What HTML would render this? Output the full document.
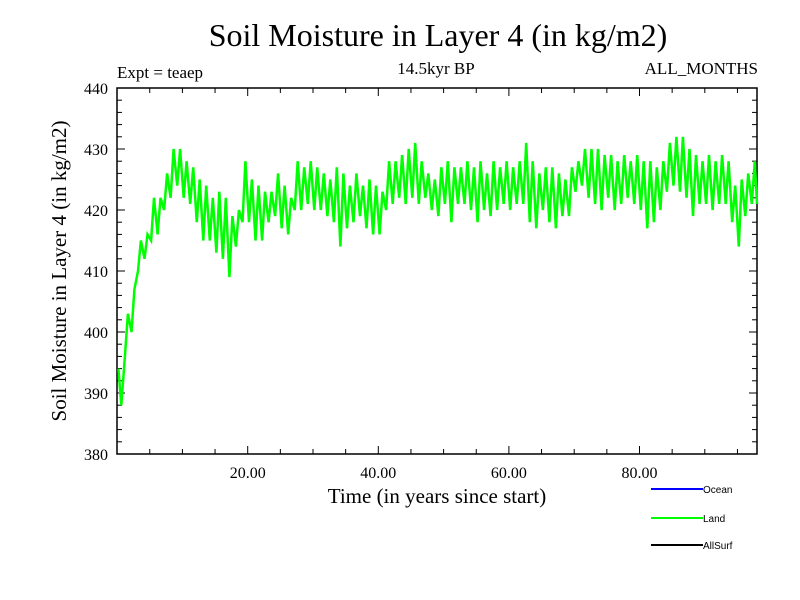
<!DOCTYPE html>
<html><head><meta charset="utf-8"><style>
body{margin:0;background:#fff;width:800px;height:600px;overflow:hidden}
svg{display:block;font-family:"Liberation Serif",serif}
.lg{font-family:"Liberation Sans",sans-serif;font-size:10px}
</style></head><body>
<svg id="chart" width="800" height="600">
<text x="438" y="46" text-anchor="middle" font-size="32">Soil Moisture in Layer 4 (in kg/m2)</text>
<text x="117" y="78" font-size="17">Expt = teaep</text>
<text x="436" y="74" text-anchor="middle" font-size="17">14.5kyr BP</text>
<text x="758" y="74" text-anchor="end" font-size="17">ALL_MONTHS</text>
<text x="437" y="503" text-anchor="middle" font-size="21">Time (in years since start)</text>
<text transform="translate(66,271) rotate(-90)" text-anchor="middle" font-size="21">Soil Moisture in Layer 4 (in kg/m2)</text>
<g id="axes"></g>
<g id="series"></g>
<g>
<line x1="651" y1="489" x2="703" y2="489" stroke="#0000ff" stroke-width="2"/>
<text class="lg" x="703" y="493">Ocean</text>
<line x1="651" y1="518" x2="703" y2="518" stroke="#00ff00" stroke-width="2"/>
<text class="lg" x="703" y="522">Land</text>
<line x1="651" y1="545" x2="703" y2="545" stroke="#000" stroke-width="2"/>
<text class="lg" x="703" y="549">AllSurf</text>
</g>
</svg>
<script>
const yearHigh=[388,403,407,415,416,422,422,426,430,430,428,427,425,424,422,423,422,419,420,428,425,424,423,423,426,424,422,428,427,428,427,426,425,427,426,424,426,424,425,424,423,428,428,429,430,431,428,426,425,427,428,427,427,428,427,428,426,428,427,428,427,428,431,428,426,427,427,426,425,427,428,430,430,430,429,429,428,429,428,429,428,428,427,428,431,432,432,430,429,428,429,428,429,428,424,425,426,428];
const yearLow=[394,396,400,410,412,415,416,420,422,424,422,421,418,415,415,413,412,409,414,418,418,415,415,418,419,417,416,420,420,421,420,420,419,418,414,417,418,419,417,416,416,420,421,422,421,422,421,422,420,419,421,418,421,421,420,418,420,419,420,421,420,421,421,418,417,420,418,417,419,419,423,424,422,421,420,422,420,421,422,421,420,417,418,420,423,424,423,422,419,421,421,420,421,421,418,414,419,421];
const yTicks=[380,390,400,410,420,430,440];
const xTicks=[20,40,60,80];
const X0=117.1,XS=6.53,Y0=454,YS=6.1;
const xs=t=>X0+t*XS, ys=v=>Y0-(v-380)*YS;
const NS="http://www.w3.org/2000/svg";
const ax=document.getElementById('axes');
function mk(tag,a,p){const e=document.createElementNS(NS,tag);for(const k in a)e.setAttribute(k,a[k]);(p||ax).appendChild(e);return e;}
const frame=mk('rect',{x:117,y:88,width:640,height:366,fill:'none',stroke:'#000','stroke-width':1.5});


for(let v=380;v<=440;v+=2){const y=ys(v),L=(v%10===0)?8:5;
 mk('line',{x1:117,y1:y,x2:117+L,y2:y,stroke:'#000','stroke-width':1});
 mk('line',{x1:757,y1:y,x2:757-L,y2:y,stroke:'#000','stroke-width':1});}
for(let t=5;t<98;t+=5){const x=xs(t),L=(t%20===0)?8:5;
 mk('line',{x1:x,y1:454,x2:x,y2:454-L,stroke:'#000','stroke-width':1});
 mk('line',{x1:x,y1:88,x2:x,y2:88+L,stroke:'#000','stroke-width':1});}
yTicks.forEach(v=>{const t=mk('text',{x:108,y:ys(v)+6,'text-anchor':'end','font-size':16});t.textContent=v;
 
 });
xTicks.forEach(v=>{const t=mk('text',{x:xs(v),y:478,'text-anchor':'middle','font-size':16});t.textContent=v.toFixed(2);
 
 });
let pts=[];
for(let i=0;i<yearHigh.length;i++){
 pts.push([i+0.2,yearLow[i]]);
 pts.push([i+0.65,yearHigh[i]]);
}
pts.push([98,421]);
let d='';
pts.forEach((p,i)=>{const x=xs(p[0]),y=ys(p[1]);
 d+=(i===0?'M':'L')+x.toFixed(1)+','+y.toFixed(1);});
const path=mk('path',{d:d,fill:'none',stroke:'#00ff00','stroke-width':2.5,'stroke-linejoin':'miter'},document.getElementById('series'));


</script>
</body></html>
